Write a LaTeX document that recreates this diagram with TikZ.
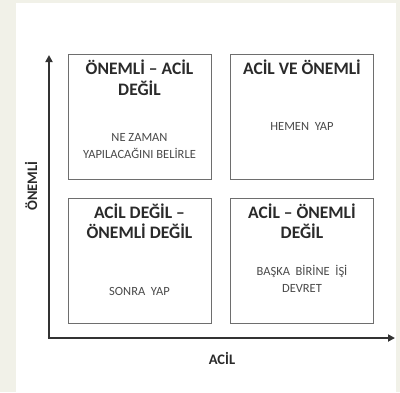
\documentclass[tikz,border=0pt]{standalone}
\usepackage{fontspec}
\setmainfont{Carlito}
\usetikzlibrary{arrows.meta}
\definecolor{bgbeige}{HTML}{F1F1E8}
\definecolor{boxgray}{HTML}{6E6E6E}
\definecolor{axisgray}{HTML}{333333}
\definecolor{txtdark}{HTML}{2A2A2A}
\definecolor{txtgray}{HTML}{4A4A4A}
\begin{document}
\begin{tikzpicture}[x=1pt,y=-1pt,
  quad/.style={draw=boxgray,line width=1pt,minimum width=143pt,minimum height=125pt,inner sep=0pt},
  qtitle/.style={font=\bfseries\fontsize{17.5}{20.5}\selectfont,text=txtdark,align=center},
  qbody/.style={font=\fontsize{12.5}{17}\selectfont,text=txtgray,align=center},
  axis/.style={draw=axisgray,line width=2.2pt,-{Triangle[length=7pt,width=7pt]}},
  axlabel/.style={font=\bfseries\fontsize{14.5}{16}\selectfont,text=txtdark}]
\fill[bgbeige] (0,0) rectangle (400,392);
\fill[white] (16,3) rectangle (396,392);
\useasboundingbox (0,0) rectangle (400,392);
% quadrants
\node[quad] (tl) at (139.5,116.5) {};
\node[quad] (tr) at (302,116.5) {};
\node[quad] (bl) at (139.5,260.5) {};
\node[quad] (br) at (302,260.5) {};
% titles
\node[qtitle] (tlt) at (139.5,77.5) {ÖNEMLİ – ACİL\\DEĞİL};
\node[qtitle] (trt) at (302,67) {ACİL VE ÖNEMLİ};
\node[qtitle] (blt) at (139.5,221) {ACİL DEĞİL –\\ÖNEMLİ DEĞİL};
\node[qtitle] (brt) at (302,221) {ACİL – ÖNEMLİ\\DEĞİL};
% bodies
\node[qbody] (tlb) at (139.5,146) {NE ZAMAN\\YAPILACAĞINI\ BELİRLE};
\node[qbody] (trb) at (302,126.5) {HEMEN\ \ YAP};
\node[qbody] (blb) at (139.5,291) {SONRA\ \ YAP};
\node[qbody] (brb) at (302,278.5) {BAŞKA\ \ BİRİNE\ \ İŞİ\\DEVRET};
% axes
\coordinate (o) at (49,338);
\coordinate (ytip) at (49,55);
\coordinate (xtip) at (395,338);
\draw[axis] (o) -- (ytip);
\draw[axis] ([xshift=-1.1pt]o) -- (xtip);
\node[axlabel] (xl) at (222,358) {ACİL};
\node[axlabel,rotate=90] (yl) at (31,186) {ÖNEMLİ};
\end{tikzpicture}
\end{document}
